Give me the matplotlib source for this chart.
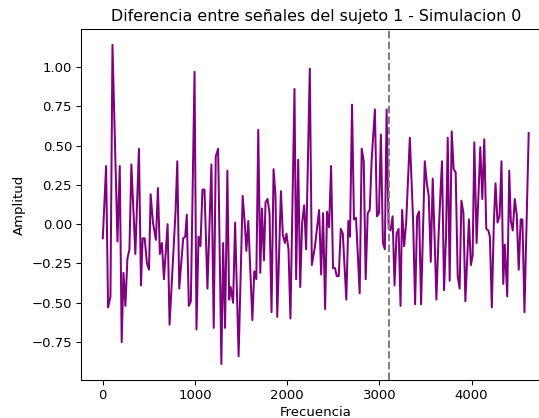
import matplotlib.pyplot as plt

# frecuencia (Hz) de cada muestra de la diferencia
freq = [0, 36, 57, 83, 105, 159, 184, 205, 224, 245, 267, 289, 310, 353, 392, 414,
        432, 454, 479, 501, 519, 544, 576, 598, 619, 641, 663, 703, 724, 789, 808, 829,
        872, 894, 911, 933, 955, 995, 1016, 1038, 1059, 1081, 1103, 1135, 1178, 1203,
        1225, 1251, 1286, 1305, 1326, 1351, 1370, 1387, 1413, 1435, 1473, 1517, 1538,
        1557, 1578, 1600, 1622, 1643, 1665, 1686, 1708, 1726, 1748, 1765, 1787, 1808,
        1830, 1852, 1873, 1892, 1932, 1953, 1975, 1992, 2014, 2035, 2079, 2097, 2119,
        2141, 2162, 2184, 2205, 2245, 2267, 2299, 2346, 2368, 2389, 2411, 2432, 2454,
        2476, 2497, 2519, 2537, 2559, 2581, 2603, 2641, 2663, 2681, 2703, 2724, 2746,
        2786, 2808, 2830, 2851, 2873, 2895, 2916, 2951, 2973, 2995, 3016, 3038, 3059,
        3078, 3100, 3121, 3143, 3164, 3186, 3208, 3229, 3246, 3268, 3290, 3330, 3365,
        3387, 3409, 3430, 3452, 3492, 3514, 3535, 3557, 3578, 3600, 3618, 3641, 3662,
        3679, 3701, 3722, 3741, 3762, 3784, 3805, 3827, 3849, 3870, 3889, 3911, 3932,
        3954, 3971, 3992, 4011, 4029, 4054, 4094, 4116, 4137, 4159, 4181, 4198, 4219,
        4241, 4259, 4281, 4303, 4324, 4343, 4360, 4386, 4408, 4425, 4446, 4468, 4489,
        4511, 4532, 4551, 4573, 4619]

# amplitud de la diferencia entre señales
amp = [-0.09, 0.37, -0.53, -0.46, 1.14, -0.11, 0.37, -0.75, -0.31, -0.52, -0.22, -0.16,
       0.38, -0.19, 0.48, -0.39, -0.09, -0.09, -0.25, -0.29, 0.19, 0.01, -0.10, 0.23,
       -0.19, -0.12, -0.35, 0.00, -0.64, 0.08, 0.40, -0.41, -0.09, -0.08, 0.06, -0.52,
       -0.49, 0.97, -0.67, -0.08, -0.14, 0.22, 0.22, -0.41, 0.38, -0.66, 0.43, 0.48,
       -0.89, -0.12, -0.66, 0.34, -0.48, -0.40, -0.50, 0.01, -0.84, 0.18, 0.02, -0.17,
       0.02, -0.29, -0.61, -0.30, -0.35, 0.60, -0.31, 0.10, -0.23, 0.14, 0.16, 0.07,
       -0.56, 0.35, 0.18, -0.59, 0.21, -0.07, -0.12, -0.06, -0.16, -0.60, 0.86, -0.35,
       0.41, -0.40, 0.01, 0.12, -0.16, 0.99, -0.26, -0.15, 0.09, -0.32, 0.07, -0.54,
       0.08, -0.02, 0.37, -0.28, -0.28, -0.33, -0.33, -0.03, -0.06, -0.48, 0.02, -0.08,
       0.76, 0.03, 0.04, -0.44, 0.48, 0.40, -0.35, 0.07, 0.09, 0.41, 0.73, 0.05, 0.07,
       0.57, -0.12, -0.16, 0.73, -0.03, -0.04, 0.05, -0.39, -0.06, -0.03, -0.52, 0.09,
       -0.14, 0.01, 0.55, 0.03, -0.51, 0.05, 0.08, -0.51, 0.40, 0.26, 0.18, -0.24, 0.29,
       -0.12, -0.48, -0.08, 0.20, 0.40, -0.42, -0.08, 0.55, -0.36, 0.59, 0.35, 0.33,
       -0.33, -0.41, 0.15, 0.07, -0.49, -0.20, 0.03, -0.26, -0.20, 0.52, -0.12, 0.49,
       0.16, 0.54, -0.03, -0.04, -0.08, -0.53, 0.01, 0.26, 0.01, 0.05, 0.40, -0.38,
       -0.13, -0.46, 0.34, 0.02, -0.04, 0.16, 0.06, -0.29, 0.03, 0.03, -0.56, 0.58]

freq_corte = 3100

plt.rcParams['font.size'] = 9.5
plt.rcParams['axes.linewidth'] = 0.76
plt.rcParams['xtick.major.width'] = 0.76
plt.rcParams['ytick.major.width'] = 0.76
plt.rcParams['xtick.major.size'] = 3.3
plt.rcParams['ytick.major.size'] = 3.3

fig = plt.figure(figsize=(5.39, 4.18), dpi=100)
ax = fig.add_axes([0.1512, 0.0909, 0.8692, 0.8397])

ax.plot(freq, amp, color='purple', linewidth=1.45)
ax.axvline(freq_corte, color='gray', linestyle='--', linewidth=1.45)

ax.set_title("Diferencia entre señales del sujeto 1 - Simulacion 0", fontsize=11.4)
ax.set_xlabel("Frecuencia", labelpad=2.5)
ax.set_ylabel("Amplitud")

fig.savefig("out.png", dpi=100)
